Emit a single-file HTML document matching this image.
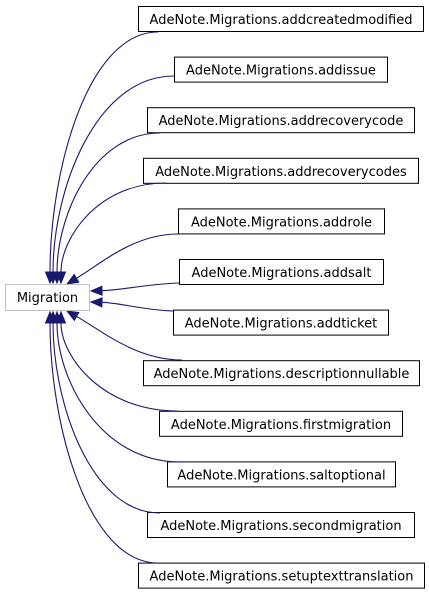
<!DOCTYPE html>
<html><head><meta charset="utf-8"><style>
body{margin:0;background:#fff;width:429px;height:595px;overflow:hidden}
svg text{font-family:"DejaVu Sans","Liberation Sans",sans-serif;font-size:13px}
</style></head><body>
<svg id="g" width="429" height="595" viewBox="0 0 429 595"></svg>
<script>
const names=["addcreatedmodified","addissue","addrecoverycode","addrecoverycodes","addrole","addsalt","addticket","descriptionnullable","firstmigration","saltoptional","secondmigration","setuptexttranslation"];
const boxX=[138,174,147,143,178,179,173,143,159,167,147,138];
const boxR=[423,387,414,418,384,383,388,419,402,395,414,424];
const ends=[[50,283],[53,283],[57,283],[61,283],[67,284],[91,291],[91,302],[67,311],[61,312],[57,312],[53,312],[50,312]];
const starts=[[158,32],[174,76],[160,133],[166,183],[178,234],[179,283],[173,311],[182,360],[178,411],[180,462],[160,513],[158,563]];
const NS="http://www.w3.org/2000/svg";
const g=document.getElementById('g');
function mk(t,a){const e=document.createElementNS(NS,t);for(const k in a)e.setAttribute(k,a[k]);g.appendChild(e);return e;}
names.forEach((n,i)=>{
  const y=6+i*50.6;
  const r=mk('rect',{x:boxX[i]+0.5,y:y+0.5,width:boxR[i]-boxX[i],height:25,fill:'#fff',stroke:'#000'});
  
  
  const t=mk('text',{x:(boxX[i]+boxR[i])/2+0.5,y:y+18,'text-anchor':'middle',fill:'#000'});
  t.textContent='AdeNote.Migrations.'+n;
  
  
  const [sx,sy]=starts[i],[ex,ey]=ends[i];
  let c1,c2;
  const dv=Math.abs(sy-ey);
  if(dv<30){c1=[sx-30,sy-(sy-ey)*0.1];c2=[ex+30,ey+(sy-ey)*0.1];}
  else if(dv<60){c1=[sx-(sx-ex)*0.4,sy];c2=[ex+(sx-ex)*0.3,ey+(sy-ey)*0.4];}
  else{c1=[ex+(sx-ex)*0.35,sy];c2=[ex,sy+(ey-sy)*0.55];}
  const dx=ex-c2[0],dy=ey-c2[1],L=Math.hypot(dx,dy),ux=dx/L,uy=dy/L;
  const bx=ex-ux*11,by=ey-uy*11;
  const p=mk('path',{d:`M${sx},${sy} C${c1} ${c2} ${bx},${by}`,fill:'none',stroke:'#191970','stroke-width':1.1});
  
  
  const a=mk('polygon',{points:`${ex},${ey} ${bx-uy*4.5},${by+ux*4.5} ${bx+uy*4.5},${by-ux*4.5}`,fill:'#191970',stroke:'#191970'});
  
  
});
const mr=mk('rect',{x:5.5,y:284.5,width:84,height:26,fill:'#fff',stroke:'#bfbfbf'});


const mt=mk('text',{x:47.5,y:302,'text-anchor':'middle',fill:'#000'});
mt.textContent='Migration';


</script>
</body></html>
